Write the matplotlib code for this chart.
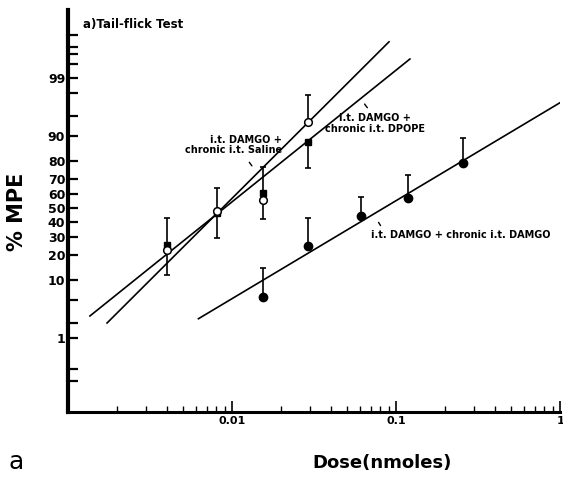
import math
import numpy as np
import matplotlib
matplotlib.use("Agg")
import matplotlib.pyplot as plt
from matplotlib.ticker import FixedLocator, NullLocator, FixedFormatter

plt.rcParams['font.family'] = ['DejaVu Sans']
plt.rcParams['font.weight'] = 'bold'

# doses (nmoles)
dose_low = [0.004, 0.0081, 0.0155, 0.029]
dose_damgo = [0.0155, 0.029, 0.061, 0.118, 0.255]

# % MPE, chronic saline (open circles) and chronic DPOPE (squares)
saline_mpe = [22.7, 47.9, 55.7, 93.8]
saline_bar = [11.6, 29.6, 42.2, 97.8]   # where each one-sided error bar ends
dpope_mpe = [25.4, 46.4, 60.6, 88.1]
dpope_bar = [42.9, 64.0, 76.8, 76.2]

# chronic DAMGO (filled circles)
damgo_mpe = [5.6, 25.0, 44.0, 57.0, 79.0]
damgo_bar = [14.0, 42.9, 58.0, 72.0, 89.5]

# fitted regression lines, end points (dose, % MPE)
saline_fit_x = [0.00173, 0.0906]
saline_fit_y = [2.0, 99.85]
dpope_fit_x = [0.00136, 0.1215]
dpope_fit_y = [2.69, 99.61]
damgo_fit_x = [0.00624, 1.0]
damgo_fit_y = [2.4, 97.0]

ytick_vals = [0.1, 0.2, 1, 2, 5, 10, 20, 30, 40, 50, 60, 70, 80, 90,
              95, 98, 99, 99.5, 99.7, 99.8, 99.9]
ytick_labels = ['', '', '1', '', '', '10', '20', '30', '40', '50', '60',
                '70', '80', '90', '', '', '99', '', '', '', '']


# probit scale helpers (inverse normal via Acklam's approximation)
_a = [-3.969683028665376e+01, 2.209460984245205e+02, -2.759285104469687e+02,
      1.383577518672690e+02, -3.066479806614716e+01, 2.506628277459239e+00]
_b = [-5.447609879822406e+01, 1.615858368580409e+02, -1.556989798598866e+02,
      6.680131188771972e+01, -1.328068155288572e+01]
_c = [-7.784894002430293e-03, -3.223964580411365e-01, -2.400758277161838e+00,
      -2.549671348840474e+00, 4.374664141464968e+00, 2.938163982698783e+00]
_d = [7.784695709041462e-03, 3.224671290700398e-01, 2.445134137142996e+00,
      3.754408661907416e+00]


def _tail(q):
    num = ((((_c[0] * q + _c[1]) * q + _c[2]) * q + _c[3]) * q + _c[4]) * q + _c[5]
    den = (((_d[0] * q + _d[1]) * q + _d[2]) * q + _d[3]) * q + 1
    return num / den


def ppf(p):
    p = np.clip(np.asarray(p, dtype=float), 1e-12, 1 - 1e-12)
    q = p - 0.5
    r = q * q
    central = (((((_a[0] * r + _a[1]) * r + _a[2]) * r + _a[3]) * r + _a[4]) * r + _a[5]) * q / \
              (((((_b[0] * r + _b[1]) * r + _b[2]) * r + _b[3]) * r + _b[4]) * r + 1)
    low = _tail(np.sqrt(-2 * np.log(p)))
    high = -_tail(np.sqrt(-2 * np.log(1 - p)))
    return np.where(p < 0.02425, low, np.where(p > 1 - 0.02425, high, central))


_erf = np.vectorize(math.erf, otypes=[float])


def to_probit(pct):
    return ppf(np.asarray(pct, dtype=float) / 100.0)


def from_probit(z):
    return 50.0 * (1 + _erf(np.asarray(z, dtype=float) / math.sqrt(2)))


def bars(vals, ends):
    lo = [max(v - e, 0) for v, e in zip(vals, ends)]
    hi = [max(e - v, 0) for v, e in zip(vals, ends)]
    return [lo, hi]


fig = plt.figure(figsize=(5.63, 4.87), dpi=100)
ax = fig.add_axes([0.1208, 0.154, 0.874, 0.8255])

ax.set_xscale('log')
ax.set_yscale('function', functions=(to_probit, from_probit))
ax.set_xlim(0.001, 1.0)
ax.set_ylim(from_probit(-3.643), from_probit(3.536))

# regression lines
ax.plot(saline_fit_x, saline_fit_y, color='black', lw=1.2)
ax.plot(dpope_fit_x, dpope_fit_y, color='black', lw=1.2)
ax.plot(damgo_fit_x, damgo_fit_y, color='black', lw=1.2)

eb = dict(fmt='none', ecolor='black', elinewidth=1.2, capsize=2.5, capthick=1.2)
ax.errorbar(dose_low, dpope_mpe, yerr=bars(dpope_mpe, dpope_bar), **eb)
ax.errorbar(dose_low, saline_mpe, yerr=bars(saline_mpe, saline_bar), **eb)
ax.errorbar(dose_damgo, damgo_mpe, yerr=bars(damgo_mpe, damgo_bar), **eb)

ax.plot(dose_low, dpope_mpe, 's', color='black', ms=5, zorder=4)
ax.plot(dose_low, saline_mpe, 'o', mfc='white', mec='black', mew=1.1, ms=5.5, zorder=5)
ax.plot(dose_damgo, damgo_mpe, 'o', color='black', ms=6, zorder=4)

# labels on the lines
ax.text(0.0201, 87, 'i.t. DAMGO +\nchronic i.t. Saline', ha='right', va='center',
        multialignment='right', fontsize=7, linespacing=1.1)
ax.annotate('', xy=(0.01353, 76.2), xytext=(0.01245, 80.4),
            arrowprops=dict(arrowstyle='-', lw=1.0, color='black'))
ax.text(0.0744, 93.4, 'i.t. DAMGO +\nchronic i.t. DPOPE', ha='center', va='center',
        fontsize=7, linespacing=1.1)
ax.annotate('', xy=(0.0684, 96.0), xytext=(0.0628, 97.1),
            arrowprops=dict(arrowstyle='-', lw=1.0, color='black'))
ax.text(0.0703, 31.5, 'i.t. DAMGO + chronic i.t. DAMGO', ha='left', va='center',
        fontsize=7)
ax.annotate('', xy=(0.0821, 36.1), xytext=(0.0766, 41.5),
            arrowprops=dict(arrowstyle='-', lw=1.0, color='black'))

ax.text(0.03, 0.965, 'a)Tail-flick Test', transform=ax.transAxes, ha='left',
        va='center', fontsize=8.5)

# axes styling
for s in ['top', 'right']:
    ax.spines[s].set_visible(False)
ax.spines['left'].set_linewidth(3.0)
ax.spines['bottom'].set_linewidth(2.2)

ax.yaxis.set_major_locator(FixedLocator(ytick_vals))
ax.yaxis.set_major_formatter(FixedFormatter(ytick_labels))
ax.yaxis.set_minor_locator(NullLocator())
ax.tick_params(axis='y', direction='in', length=7, width=1.6, pad=2, labelsize=9)

ax.set_xticks([0.001, 0.01, 0.1, 1])
ax.set_xticklabels(['', '0.01', '0.1', '1'])
ax.tick_params(axis='x', which='major', direction='in', length=8, width=1.2,
               pad=3, labelsize=8)
ax.tick_params(axis='x', which='minor', direction='in', length=4.5, width=1.0)

ax.set_ylabel('% MPE', fontsize=15, fontweight='bold')
ax.yaxis.set_label_coords(-0.0833, 0.4975)
ax.set_xlabel('Dose(nmoles)', fontsize=13, fontweight='bold')
ax.xaxis.set_label_coords(0.638, -0.1045)

fig.text(8 / 563, 1 - 462 / 487, 'a', ha='left', va='center', fontsize=18,
         fontweight='normal')

fig.savefig('out.png', dpi=100)
